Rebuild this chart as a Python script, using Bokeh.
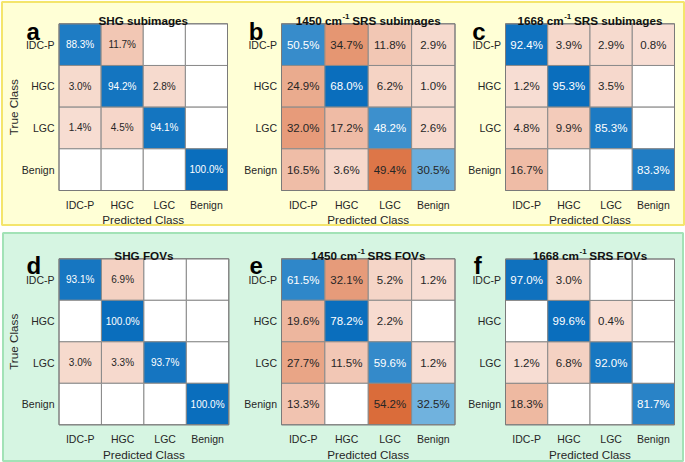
import math
from bokeh.plotting import figure
from bokeh.models import Range1d, ColumnDataSource
from bokeh.embed import file_html
from bokeh.resources import INLINE
from bokeh.core.properties import value

# ---------------- data ----------------
classes = ["IDC-P", "HGC", "LGC", "Benign"]

shg_subimages = [[88.3, 11.7, 0.0, 0.0],
                 [3.0, 94.2, 2.8, 0.0],
                 [1.4, 4.5, 94.1, 0.0],
                 [0.0, 0.0, 0.0, 100.0]]
srs1450_subimages = [[50.5, 34.7, 11.8, 2.9],
                     [24.9, 68.0, 6.2, 1.0],
                     [32.0, 17.2, 48.2, 2.6],
                     [16.5, 3.6, 49.4, 30.5]]
srs1668_subimages = [[92.4, 3.9, 2.9, 0.8],
                     [1.2, 95.3, 3.5, 0.0],
                     [4.8, 9.9, 85.3, 0.0],
                     [16.7, 0.0, 0.0, 83.3]]
shg_fovs = [[93.1, 6.9, 0.0, 0.0],
            [0.0, 100.0, 0.0, 0.0],
            [3.0, 3.3, 93.7, 0.0],
            [0.0, 0.0, 0.0, 100.0]]
srs1450_fovs = [[61.5, 32.1, 5.2, 1.2],
                [19.6, 78.2, 2.2, 0.0],
                [27.7, 11.5, 59.6, 1.2],
                [13.3, 0.0, 54.2, 32.5]]
srs1668_fovs = [[97.0, 3.0, 0.0, 0.0],
                [0.0, 99.6, 0.4, 0.0],
                [1.2, 6.8, 92.0, 0.0],
                [18.3, 0.0, 0.0, 81.7]]

panel_letters = ["a", "b", "c", "d", "e", "f"]
title_main = ["SHG subimages", "1450 cm", "1668 cm", "SHG FOVs", "1450 cm", "1668 cm"]
title_sup = ["", "-1", "-1", "", "-1", "-1"]
title_rest = ["", "SRS subimages", "SRS subimages", "", "SRS FOVs", "SRS FOVs"]
matrices = [shg_subimages, srs1450_subimages, srs1668_subimages,
            shg_fovs, srs1450_fovs, srs1668_fovs]
x_label = "Predicted Class"
y_label = "True Class"

# ---------------- layout (page pixels) ----------------
W, H = 685, 462
grids = [(58.5, 227.0, 23.3, 190.0),
         (281.0, 454.5, 23.3, 190.0),
         (505.0, 674.0, 23.3, 190.0),
         (58.5, 228.3, 258.3, 424.3),
         (281.0, 454.5, 258.3, 424.3),
         (505.0, 674.0, 258.5, 424.3)]
letter_pos = [(26, 30.7), (248.3, 30.7), (471.7, 31), (26, 265), (249, 265), (473.3, 265)]
cell_font = ["10px", "11.5px", "11.5px", "10px", "11.5px", "11.5px"]

FONT = "Liberation Sans"
DARK = "#262626"
GRIDC = "#8a8a8a"

BOLD_W = {str(d): 556 for d in range(10)}
BOLD_W.update({" ": 278, "c": 556, "m": 889, "-": 333, "S": 667, "R": 722, "u": 611,
               "b": 611, "i": 278, "a": 556, "g": 611, "e": 556, "s": 556, "F": 611,
               "O": 778, "V": 667, "H": 722, "G": 778})


def text_w(s, size):
    return sum(BOLD_W.get(ch, 556) for ch in s) / 1000.0 * size


def lerp(c0, c1, t):
    t = max(0.0, min(1.0, t))
    return "#%02x%02x%02x" % tuple(int(round(a + (b - a) * t)) for a, b in zip(c0, c1))


BLUE_LO, BLUE_HI = (185, 226, 245), (10, 110, 189)
RED_LO, RED_HI = (248, 224, 214), (218, 106, 56)

p = figure(width=W, height=H, x_range=Range1d(0, W), y_range=Range1d(H, 0),
           output_backend="svg", toolbar_location=None, min_border=0,
           x_axis_type=None, y_axis_type=None, outline_line_color=None,
           background_fill_color="white", border_fill_color="white")
p.grid.visible = False

# background boxes
p.quad(left=[1.5], right=[683.5], top=[1.5], bottom=[224.5],
       fill_color="#FFFFD6", line_color="#F4E56C", line_width=2)
p.quad(left=[2.5], right=[682.5], top=[232.5], bottom=[460.5],
       fill_color="#D6F5E2", line_color="#A2E2B6", line_width=2)

TITLE_SIZE = 11.7
SUP_SIZE = 8.0

for k, mat in enumerate(matrices):
    x0, x1, y0, y1 = grids[k]
    n = len(classes)
    cw = (x1 - x0) / n
    ch = (y1 - y0) / n
    vmax = max(max(r) for r in mat)
    L, R, T, B, fills, tx, ty, tt, tc = [], [], [], [], [], [], [], [], []
    for i, row in enumerate(mat):
        for j, v in enumerate(row):
            L.append(x0 + j * cw)
            R.append(x0 + (j + 1) * cw)
            T.append(y0 + i * ch)
            B.append(y0 + (i + 1) * ch)
            if v <= 0:
                fills.append("#ffffff")
                continue
            if i == j:
                t = v / vmax
                fills.append(lerp(BLUE_LO, BLUE_HI, t))
                col = "#ffffff" if t > 0.6 else DARK
            else:
                t = v / 55.0
                fills.append(lerp(RED_LO, RED_HI, t))
                col = DARK
            tx.append(x0 + (j + 0.5) * cw)
            ty.append(y0 + (i + 0.5) * ch)
            tt.append(f"{v:.1f}%")
            tc.append(col)
    p.quad(left=L, right=R, top=T, bottom=B, fill_color=fills,
           line_color=GRIDC, line_width=1)
    p.quad(left=[x0], right=[x1], top=[y0], bottom=[y1], fill_color=None,
           line_color="#7a7a7a", line_width=1)
    src = ColumnDataSource(dict(x=tx, y=ty, text=tt, color=tc))
    p.text(x="x", y="y", text="text", source=src, text_color="color",
           text_align="center", text_baseline="middle",
           text_font=value(FONT), text_font_size=cell_font[k])

    # tick labels
    p.text(x=[x0 - 4.5] * n, y=[y0 + (i + 0.5) * ch for i in range(n)], text=classes,
           text_align="right", text_baseline="middle", text_color=DARK,
           text_font=value(FONT), text_font_size="10.5px")
    p.text(x=[x0 + (j + 0.5) * cw for j in range(n)], y=[y1 + 14.5] * n, text=classes,
           text_align="center", text_baseline="alphabetic", text_color=DARK,
           text_font=value(FONT), text_font_size="10.5px")
    # axis labels
    cx = (x0 + x1) / 2
    p.text(x=[cx], y=[y1 + 29.2], text=[x_label], text_align="center",
           text_baseline="alphabetic", text_color=DARK,
           text_font=value(FONT), text_font_size="11.7px")
    if k % 3 == 0:
        p.text(x=[12.5], y=[(y0 + y1) / 2], text=[y_label], angle=math.pi / 2,
               text_align="center", text_baseline="middle", text_color=DARK,
               text_font=value(FONT), text_font_size="11.7px")
    # title
    base = y0 - 3.3
    if title_sup[k]:
        w1 = text_w(title_main[k], TITLE_SIZE)
        ws = text_w(title_sup[k], SUP_SIZE)
        wsp = text_w(" ", TITLE_SIZE)
        w3 = text_w(title_rest[k], TITLE_SIZE)
        left = cx - (w1 + ws + wsp + w3) / 2
        p.text(x=[left], y=[base], text=[title_main[k]], text_align="left",
               text_baseline="alphabetic", text_color="#111111", text_font_style="bold",
               text_font=value(FONT), text_font_size=f"{TITLE_SIZE}px")
        p.text(x=[left + w1 + 0.5], y=[base - 3.8], text=[title_sup[k]], text_align="left",
               text_baseline="alphabetic", text_color="#111111", text_font_style="bold",
               text_font=value(FONT), text_font_size=f"{SUP_SIZE}px")
        p.text(x=[left + w1 + ws + wsp], y=[base], text=[title_rest[k]], text_align="left",
               text_baseline="alphabetic", text_color="#111111", text_font_style="bold",
               text_font=value(FONT), text_font_size=f"{TITLE_SIZE}px")
    else:
        p.text(x=[cx], y=[base], text=[title_main[k]], text_align="center",
               text_baseline="alphabetic", text_color="#111111", text_font_style="bold",
               text_font=value(FONT), text_font_size=f"{TITLE_SIZE}px")
    # panel letter
    lx, ly = letter_pos[k]
    p.text(x=[lx], y=[ly], text=[panel_letters[k]], text_align="left",
           text_baseline="alphabetic", text_color="#000000", text_font_style="bold",
           text_font=value(FONT), text_font_size="24px")

open("out.html", "w").write(file_html(p, INLINE))
